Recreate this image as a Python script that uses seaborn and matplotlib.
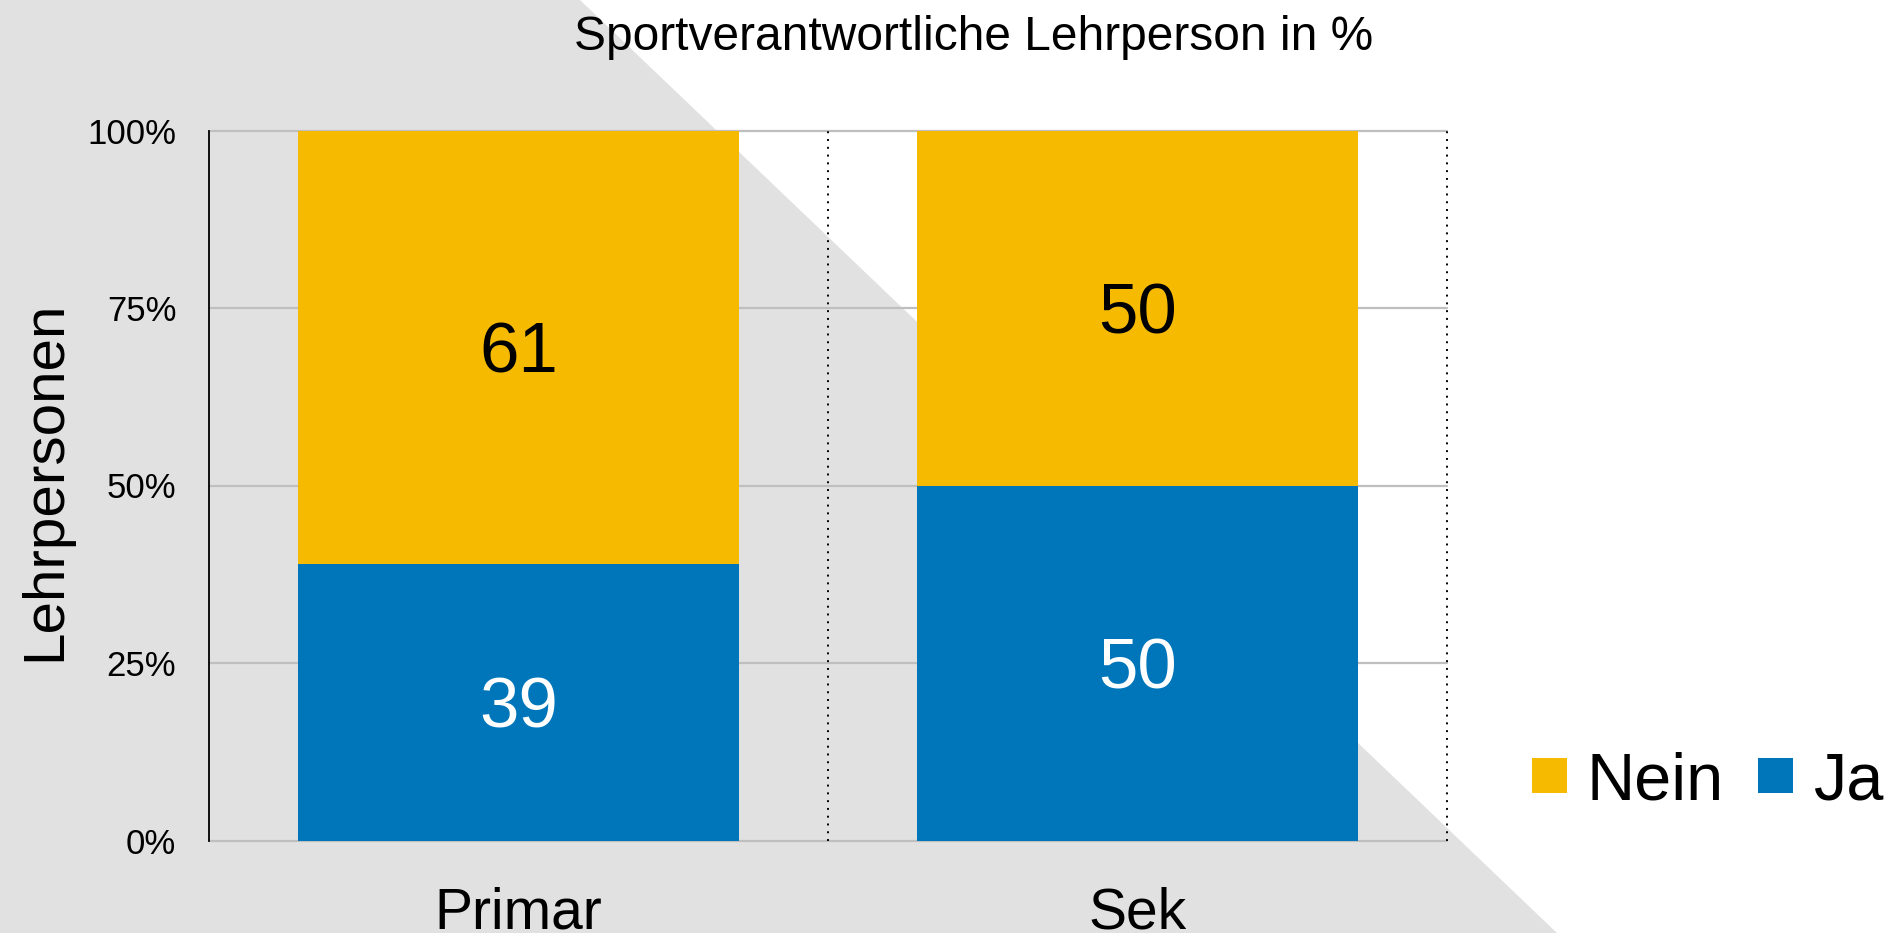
import matplotlib
matplotlib.use("Agg")
import matplotlib.pyplot as plt
from matplotlib.patches import Polygon, Patch
import seaborn as sns
import pandas as pd
import numpy as np

# ---- data ----
categories = ["Primar", "Sek"]
ja = [39, 50]
nein = [61, 50]
series_names = ["Nein", "Ja"]
yticks = [0, 25, 50, 75, 100]
ytick_labels = ["0%", "25%", "50%", "75%", "100%"]
title = "Sportverantwortliche Lehrperson in %"
ylabel = "Lehrpersonen"

YELLOW = "#F6BB00"
BLUE = "#0076BA"
GREY_BG = "#E1E1E1"
GRID = "#BFBFBF"

sns.set_style("white")
plt.rcParams["font.family"] = ["Liberation Sans", "DejaVu Sans"]
plt.rcParams["text.color"] = "black"

W, H = 1889, 933
fig = plt.figure(figsize=(W / 100, H / 100), dpi=100)
fig.patch.set_facecolor("white")

# diagonal grey background
poly = Polygon([(0, 1), (580 / W, 1), (1557 / W, 0), (0, 0)], closed=True,
               transform=fig.transFigure, facecolor=GREY_BG, edgecolor="none", zorder=-10)
fig.patches.append(poly)

ax = fig.add_axes([209 / W, 1 - 840.5 / H, 1238 / W, 710 / H])
ax.set_facecolor("none")
ax.set_zorder(1)

df = pd.DataFrame({"cat": categories, "ja": ja, "nein": nein})
df["total"] = df["ja"] + df["nein"]

sns.barplot(data=df, x="cat", y="total", color=YELLOW, saturation=1, width=0.712,
            ax=ax, zorder=3, linewidth=0)
sns.barplot(data=df, x="cat", y="ja", color=BLUE, saturation=1, width=0.712,
            ax=ax, zorder=3, linewidth=0)

ax.set_xlim(-0.5, len(categories) - 0.5)
ax.set_ylim(0, 100)

# horizontal gridlines
for t in yticks:
    ax.axhline(t, color=GRID, lw=1.6, zorder=1, clip_on=False)
# dotted category separators
for i in range(len(categories)):
    ax.axvline(i + 0.5, color="black", lw=1.4, linestyle=(0, (1, 3)), zorder=2, clip_on=False)

for s in ["top", "right", "bottom"]:
    ax.spines[s].set_visible(False)
ax.spines["left"].set_color("black")
ax.spines["left"].set_linewidth(1.3)
ax.spines["left"].set_zorder(4)

ax.set_yticks(yticks)
ax.set_yticklabels(ytick_labels)
ax.tick_params(axis="y", length=0, pad=23.5, labelsize=25, labelcolor="black")
ax.tick_params(axis="x", length=0, pad=33, labelsize=41, labelcolor="black")
ax.set_xlabel("")
ax.set_ylabel(ylabel, fontsize=42, color="black")
ax.yaxis.label.set(ha="center", va="center")
ax.yaxis.set_label_coords((45.5 - 209) / 1238, 0.506)

# value labels
for i in range(len(categories)):
    ax.text(i, ja[i] / 2, f"{ja[i]}", ha="center", va="center_baseline",
            fontsize=51, color="white", zorder=5)
    ax.text(i, ja[i] + nein[i] / 2, f"{nein[i]}", ha="center", va="center_baseline",
            fontsize=51, color="black", zorder=5)

fig.text(974 / W, 1 - 50 / H, title, ha="center", va="baseline", fontsize=34.5, color="black")

handles = [Patch(facecolor=YELLOW, edgecolor="none", label=series_names[0]),
           Patch(facecolor=BLUE, edgecolor="none", label=series_names[1])]
fig.legend(handles=handles, ncol=2, frameon=False, fontsize=48, labelcolor="black",
           handlelength=0.525, handleheight=0.431, handletextpad=0.3,
           columnspacing=0.5, borderpad=0, borderaxespad=0,
           loc="center left", bbox_to_anchor=(1532 / W, 1 - 782 / H))

fig.savefig("out.png", dpi=100, facecolor=fig.get_facecolor())
